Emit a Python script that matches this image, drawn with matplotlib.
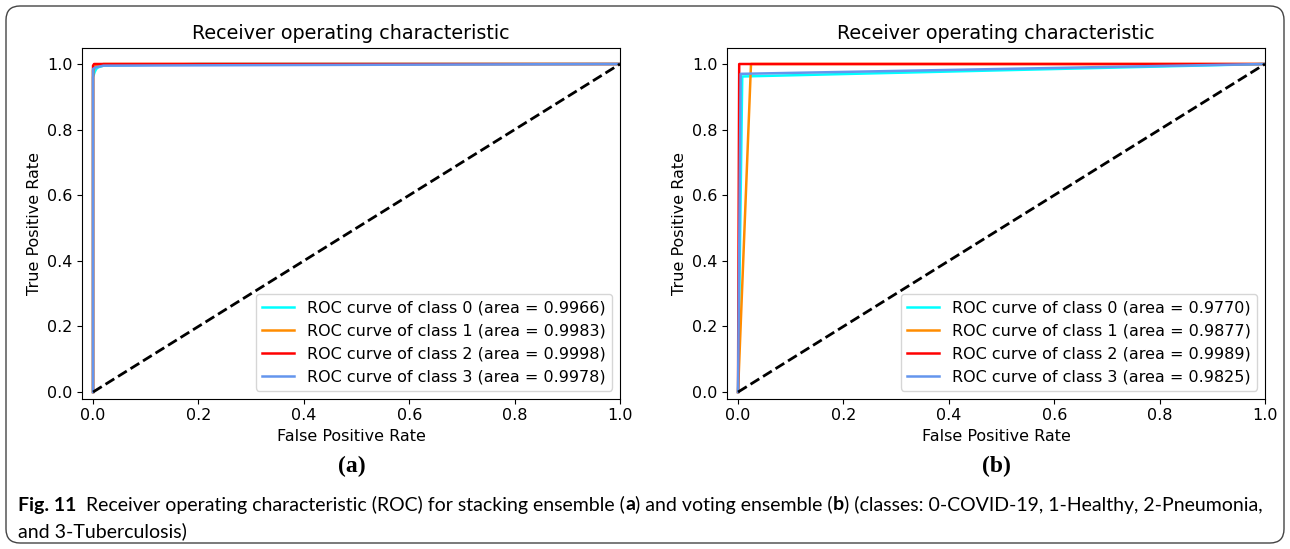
import matplotlib
matplotlib.use("Agg")
import matplotlib.pyplot as plt
from matplotlib.patches import FancyBboxPatch
from matplotlib.text import Annotation
from matplotlib.transforms import IdentityTransform

# ROC data
classes = [0, 1, 2, 3]
colors = ["aqua", "darkorange", "red", "cornflowerblue"]

# (a) stacking ensemble
auc_a = [0.9966, 0.9983, 0.9998, 0.9978]
fpr_a = [
    [0.0, 0.0, 0.003, 0.006, 0.01, 0.02, 0.2, 1.0],
    [0.0, 0.0, 0.005, 0.02, 1.0],
    [0.0, 0.0, 0.002, 1.0],
    [0.0, 0.0, 0.005, 0.02, 0.6, 1.0],
]
tpr_a = [
    [0.0, 0.96, 0.975, 0.985, 0.99, 0.995, 1.0, 1.0],
    [0.0, 0.98, 0.995, 1.0, 1.0],
    [0.0, 0.995, 1.0, 1.0],
    [0.0, 0.985, 0.99, 0.995, 0.998, 1.0],
]

# (b) voting ensemble
auc_b = [0.9770, 0.9877, 0.9989, 0.9825]
fpr_b = [
    [0.0, 0.008, 1.0],
    [0.0, 0.0246, 1.0],
    [0.0, 0.0022, 1.0],
    [0.0, 0.005, 1.0],
]
tpr_b = [
    [0.0, 0.962, 1.0],
    [0.0, 1.0, 1.0],
    [0.0, 1.0, 1.0],
    [0.0, 0.97, 1.0],
]

W, H = 1290, 549
fig = plt.figure(figsize=(W / 100, H / 100), dpi=100)


def roc_panel(rect, fprs, tprs, aucs):
    ax = fig.add_axes(rect)
    for c, col, f, t, a in zip(classes, colors, fprs, tprs, aucs):
        ax.plot(f, t, color=col, lw=1.8,
                label="ROC curve of class {0} (area = {1:0.4f})".format(c, a))
    ax.plot([0, 1], [0, 1], "k--", lw=2)
    ax.set_xlim([-0.02, 1.0])
    ax.set_ylim([-0.02, 1.05])
    ax.set_xlabel("False Positive Rate", fontsize=11.5)
    ax.set_ylabel("True Positive Rate", fontsize=11.5)
    ax.set_title("Receiver operating characteristic", fontsize=13.8)
    ax.tick_params(labelsize=11.5)
    ax.legend(loc="lower right", fontsize=11.5)
    return ax


roc_panel([0.06395, 0.27395, 0.41667, 0.63934], fpr_a, tpr_a, auc_a)
roc_panel([0.56395, 0.27395, 0.41667, 0.63934], fpr_b, tpr_b, auc_b)

# panel letters
fig.text(352 / W, 1 - 466 / H, "(a)", ha="center", va="center",
         family="Liberation Serif", weight="bold", fontsize=17)
fig.text(996 / W, 1 - 466 / H, "(b)", ha="center", va="center",
         family="Liberation Serif", weight="bold", fontsize=17)

# caption, pieces chained so that bold and regular run on one line
cap_font = "Lato"
cap_size = 14
pieces = [
    ("Fig. 11", "bold"),
    ("  Receiver operating characteristic (ROC) for stacking ensemble (", "normal"),
    ("a", "bold"),
    (") and voting ensemble (", "normal"),
    ("b", "bold"),
    (") (classes: 0-COVID-19, 1-Healthy, 2-Pneumonia,", "normal"),
]
prev = fig.text(18 / W, 1 - 505 / H, pieces[0][0], va="center",
                family=cap_font, weight=pieces[0][1], fontsize=cap_size)
for s, w in pieces[1:]:
    prev = fig.add_artist(Annotation(s, xy=(1, 0), xycoords=prev,
                                     va="bottom", ha="left",
                                     family=cap_font, weight=w, fontsize=cap_size))
fig.text(18 / W, 1 - 531 / H, "and 3-Tuberculosis)", va="center",
         family=cap_font, fontsize=cap_size)

# rounded frame round the whole figure
frame = FancyBboxPatch((6, 6), W - 12, H - 12,
                       boxstyle="round,pad=0,rounding_size=14",
                       transform=IdentityTransform(), fill=False,
                       edgecolor="#444444", lw=1.0)
fig.add_artist(frame)

fig.savefig("out.png", dpi=100)
